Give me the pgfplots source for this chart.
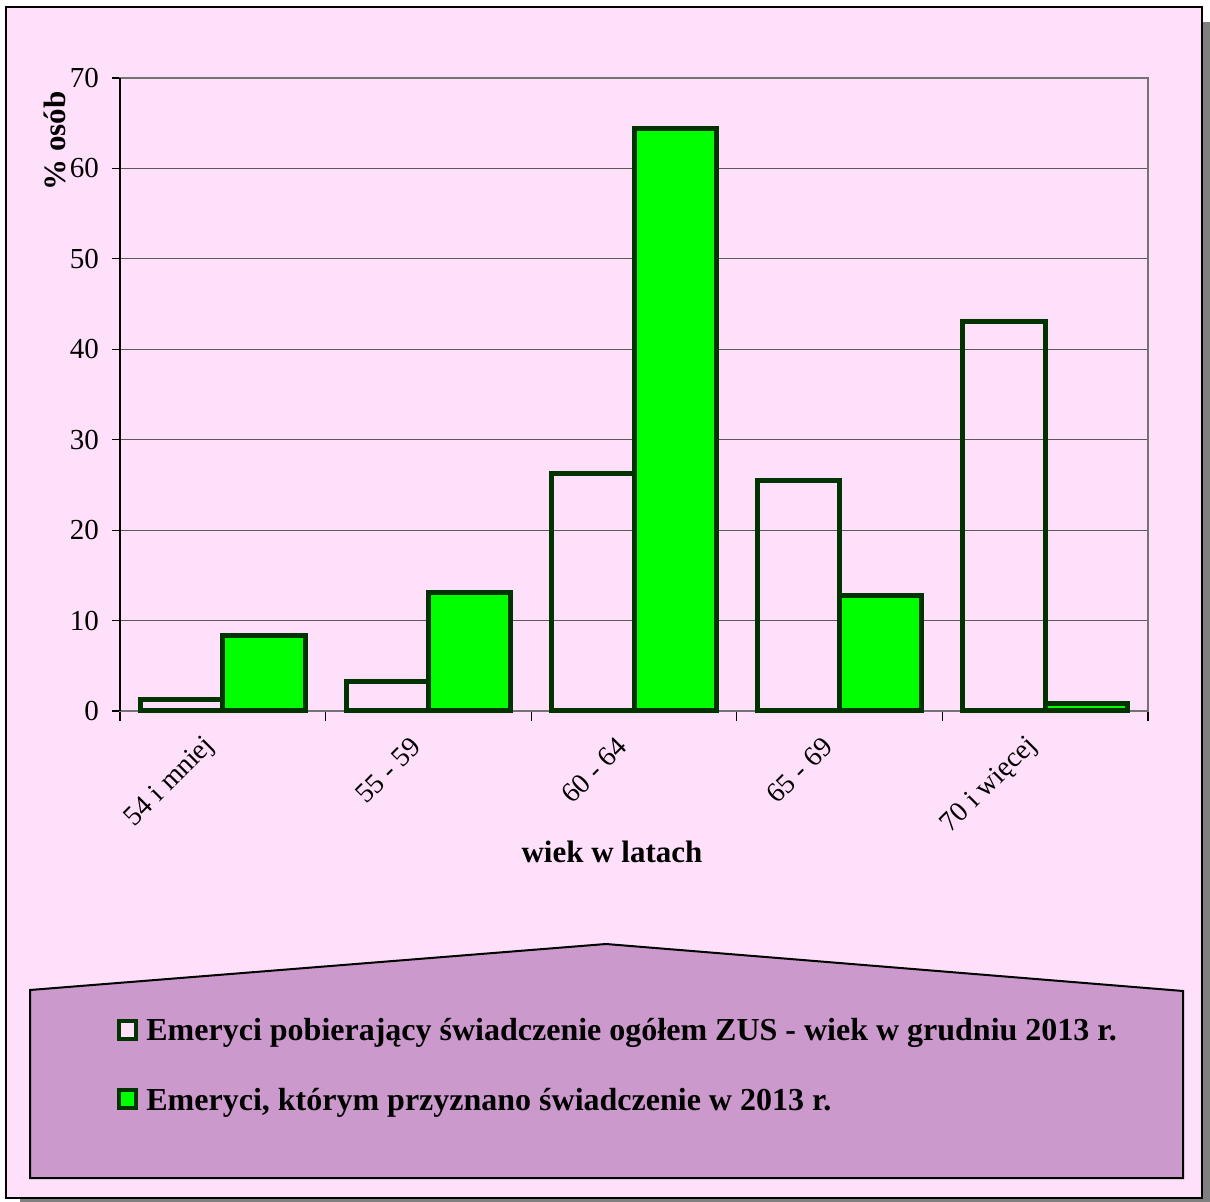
\documentclass[border=0pt]{standalone}
\usepackage{pgfplots}
\pgfplotsset{compat=1.18}
\usepackage{fontspec}
\setmainfont{Liberation Serif}
\definecolor{bgpink}{RGB}{255,224,250}
\definecolor{legpurple}{RGB}{204,153,204}
\definecolor{barline}{RGB}{0,51,0}
\definecolor{bargreen}{RGB}{0,255,0}

\begin{document}
\begin{tikzpicture}[x=1pt,y=1pt]
% 1 px of the reference = 0.5pt, y runs downwards
\path[use as bounding box] (0,0) rectangle (605,-601);
\fill[gray] (10,-11) rectangle (605,-605);
\fill[bgpink] (3,-3.5) rectangle (601,-599);
\draw[line width=1pt] (3,-3.5) rectangle (601,-599);

% legend panel
\draw[fill=legpurple, line width=1pt] (15,-495) -- (303,-472) -- (591.5,-495.5)
  -- (591.5,-589) -- (15,-589) -- cycle;

\begin{axis}[
    at={(60pt,-355.5pt)}, anchor=south west,
    scale only axis, width=514pt, height=316.5pt,
    xmin=-0.5, xmax=4.5, ymin=0, ymax=70,
    ybar=0pt, bar width=0.4,
    xtick={0,1,2,3,4},
    xticklabels={54 i mniej,55 - 59,60 - 64,65 - 69,70 i więcej},
    minor xtick={-0.5,0.5,...,4.5},
    ytick={0,10,...,70},
    tick pos=left, tick align=outside,
    major x tick style={draw=none},
    minor tick length=5pt, major tick length=4pt,
    tick style={black, line width=0.6pt},
    ymajorgrids, grid style={black!65, line width=0.5pt},
    axis line style={black!55, line width=0.6pt},
    xticklabel style={rotate=45, anchor=east, xshift=-9pt, yshift=-4pt,
        font=\fontsize{14}{16}\selectfont},
    yticklabel style={xshift=-3pt, font=\fontsize{14.5}{16}\selectfont},
    /pgf/number format/assume math mode=true,
    clip=false,
]
\addplot[draw=barline, fill=none, line width=2.5pt, bar shift=-0.2]
    coordinates {(0,1.3) (1,3.3) (2,26.3) (3,25.5) (4,43.1)};
\addplot[draw=barline, fill=bargreen, line width=2.5pt, bar shift=0.2]
    coordinates {(0,8.4) (1,13.1) (2,64.4) (3,12.8) (4,0.8)};
\draw[black, line width=0.6pt] (rel axis cs:0,0) -- (rel axis cs:0,1);
\end{axis}

\node[rotate=90, font=\fontsize{15.5}{17}\selectfont\bfseries] at (27.5,-70.5) {\% osób};
\node[font=\fontsize{15.5}{17}\selectfont\bfseries] at (306,-426) {wiek w latach};

% legend entries
\draw[barline, line width=2pt, fill=bgpink] (59.5,-510.5) rectangle (68,-519.5);
\node[anchor=base west, font=\fontsize{16}{18}\selectfont\bfseries, inner sep=0pt]
  at (73,-520) {Emeryci pobierający świadczenie ogółem ZUS - wiek w grudniu 2013 r.};
\draw[barline, line width=2pt, fill=bargreen] (59.5,-545) rectangle (68,-554);
\node[anchor=base west, font=\fontsize{16}{18}\selectfont\bfseries, inner sep=0pt]
  at (73,-555) {Emeryci, którym przyznano świadczenie w 2013 r.};
\end{tikzpicture}
\end{document}
